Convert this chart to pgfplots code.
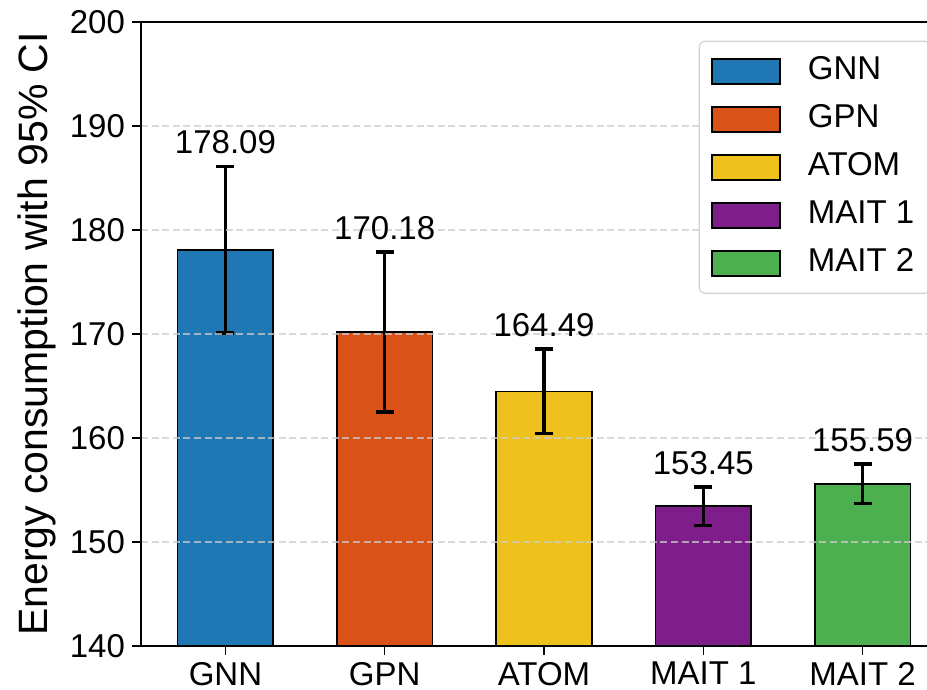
\documentclass[border=0pt]{standalone}
\usepackage{fontspec}
\setmainfont{Liberation Sans}
\usepackage{pgfplots}
\pgfplotsset{compat=1.18}
\definecolor{cgnn}{HTML}{1F77B4}
\definecolor{cgpn}{HTML}{D95319}
\definecolor{catom}{HTML}{EFC11C}
\definecolor{cmait1}{HTML}{7E1E8A}
\definecolor{cmait2}{HTML}{4CAF50}
\newcommand{\fs}{\fontsize{16.5}{19.8}\selectfont}
\begin{document}
\begin{tikzpicture}
\begin{axis}[
  name=ax,
  scale only axis,
  axis on top,
  width=403pt, height=312pt,
  xmin=-0.53, xmax=4.53,
  ymin=140, ymax=200,
  ytick={140,150,...,200},
  xtick={0,1,2,3,4},
  xticklabels={GNN,GPN,ATOM,MAIT 1,MAIT 2},
  tick align=outside,
  tick pos=left,
  major tick length=4.5pt,
  tick style={black, line width=0.7pt},
  axis line style={line width=0.8pt},
  ymajorgrids,
  major grid style={white!80!black, opacity=0.75, line width=0.6pt, dash pattern=on 3.5pt off 1.8pt},
  /pgf/number format/assume math mode=true,
  tick label style={font=\fs},
  ylabel={Energy consumption with 95\% CI},
  ylabel style={font=\fontsize{20.5}{24}\selectfont},
  legend style={at={(0.98,0.97)}, anchor=north east, draw=gray!35, line width=0.6pt,
    rounded corners=3pt, font=\fs, row sep=4pt, inner xsep=6pt, inner ysep=5pt,
    nodes={text height=12pt, text depth=4pt, inner sep=2pt}},
  legend cell align=left,
  legend image code/.code={\draw[#1, draw=black, line width=0.75pt, sharp corners] (0pt,-6.25pt) rectangle (34pt,6.25pt); \path[draw=none, fill=none] (34pt,0pt) -- (46pt,0pt);},
  every axis plot/.append style={ybar, bar width=0.6, bar shift=0pt, draw=black, line width=0.75pt,
    error bars/y dir=both, error bars/y explicit,
    error bars/error bar style={line width=1.7pt, black},
    error bars/error mark options={rotate=90, mark size=4.5pt, line width=1.7pt, black}},
]
\addplot[fill=cgnn] coordinates {(0,178.09) +- (0,8.0)};
\addlegendentry{GNN}
\addplot[fill=cgpn] coordinates {(1,170.18) +- (0,7.7)};
\addlegendentry{GPN}
\addplot[fill=catom] coordinates {(2,164.49) +- (0,4.05)};
\addlegendentry{ATOM}
\addplot[fill=cmait1] coordinates {(3,153.45) +- (0,1.85)};
\addlegendentry{MAIT 1}
\addplot[fill=cmait2] coordinates {(4,155.59) +- (0,1.9)};
\addlegendentry{MAIT 2}
\end{axis}
\begin{axis}[
  scale only axis, at={(ax.south west)}, anchor=south west,
  width=403pt, height=312pt,
  xmin=-0.53, xmax=4.53, ymin=140, ymax=200,
  hide axis,
]
\addplot[draw=none, mark=none, nodes near coords, point meta=explicit symbolic,
  every node near coord/.append style={font=\fs, text=black, anchor=south, inner sep=0pt, yshift=6pt}]
  coordinates {(0,186.09)[178.09] (1,177.88)[170.18] (2,168.54)[164.49] (3,155.30)[153.45] (4,157.49)[155.59]};
\end{axis}
\pgfresetboundingbox
\path[use as bounding box] ([xshift=-70.5pt,yshift=-22pt]ax.south west) rectangle ([xshift=393pt,yshift=11pt]ax.north west);
\end{tikzpicture}
\end{document}
